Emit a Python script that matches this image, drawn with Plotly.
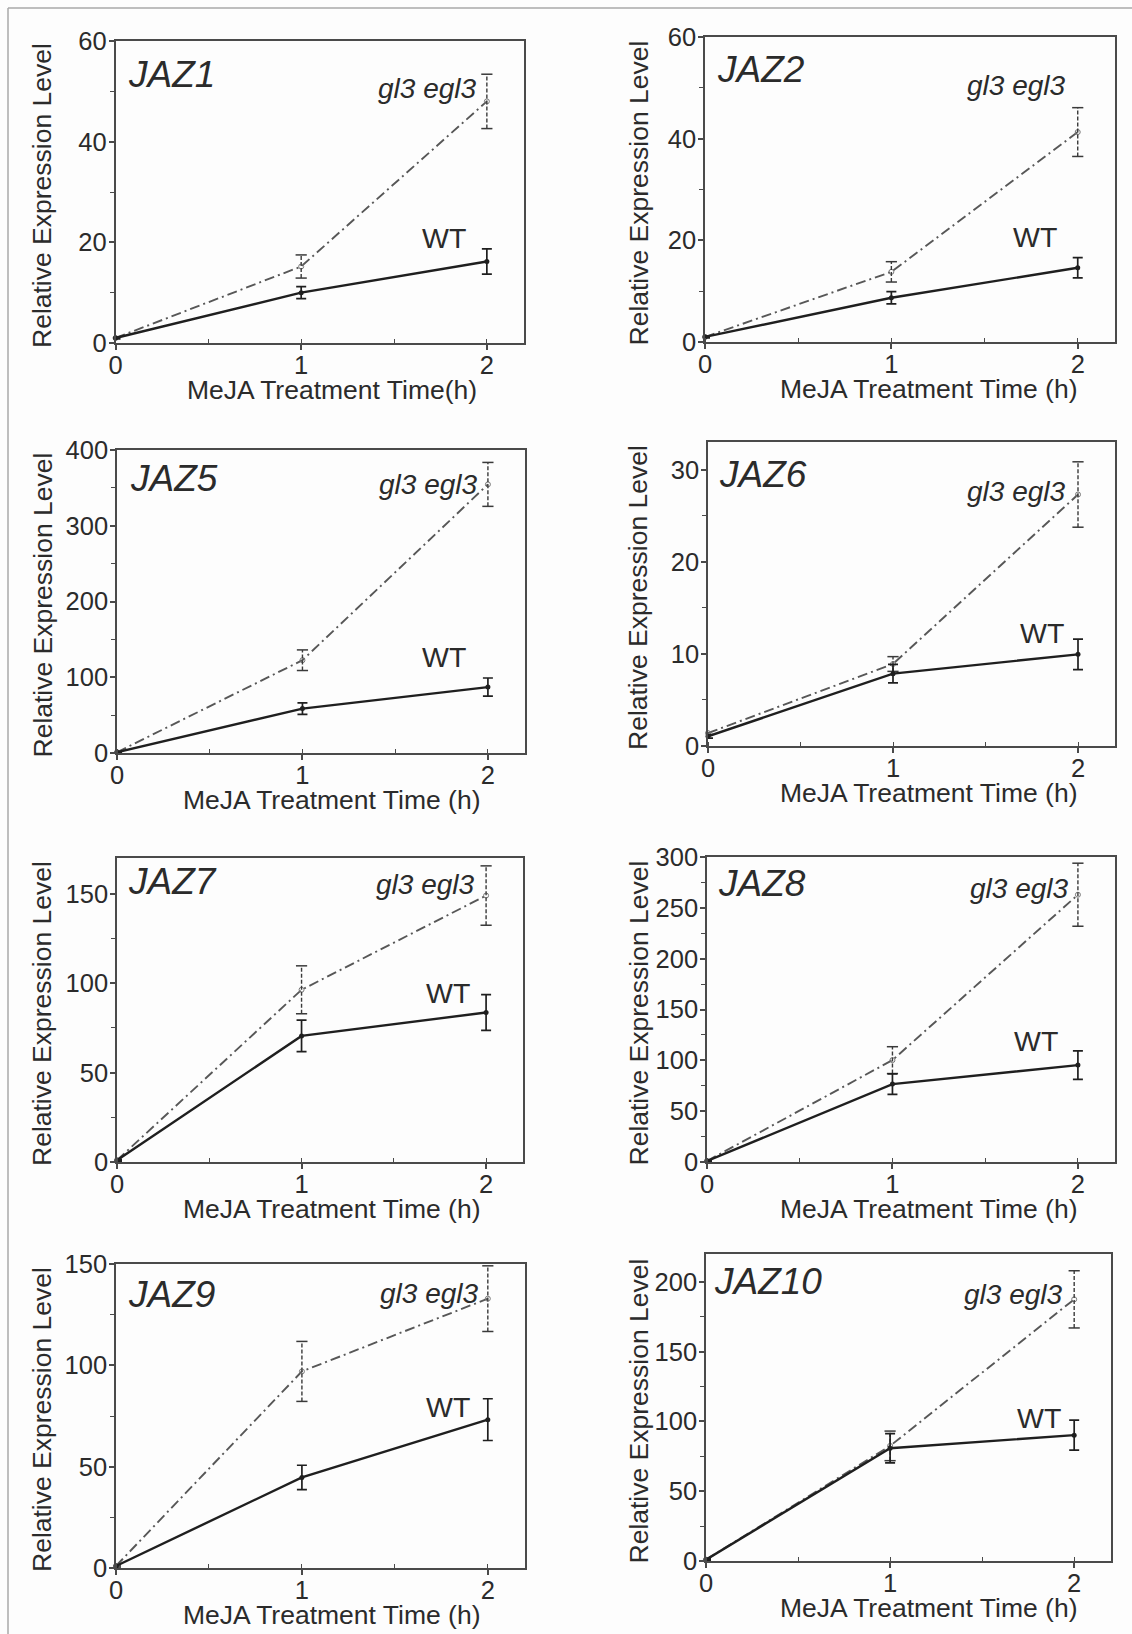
import plotly.graph_objects as go

W, H = 1132, 1634

# ---------------- data ----------------
genes = ["JAZ1", "JAZ2", "JAZ5", "JAZ6", "JAZ7", "JAZ8", "JAZ9", "JAZ10"]
time_h = [0, 1, 2]

wt_mean = [
    [1.0, 10.0, 16.2],
    [1.0, 8.7, 14.6],
    [1.0, 58.6, 87.0],
    [1.05, 7.85, 9.95],
    [1.0, 70.5, 83.6],
    [1.0, 76.6, 95.3],
    [1.0, 44.7, 73.2],
    [1.0, 80.8, 90.2],
]
wt_err = [
    [0.2, 1.2, 2.5],
    [0.2, 1.2, 2.0],
    [0.5, 7.7, 12.0],
    [0.2, 1.0, 1.65],
    [0.5, 8.8, 10.0],
    [0.5, 10.0, 14.0],
    [0.5, 6.0, 10.3],
    [0.5, 10.5, 10.7],
]
mut_mean = [
    [1.0, 15.2, 48.0],
    [1.0, 13.8, 41.3],
    [1.0, 122.5, 354.6],
    [1.4, 8.9, 27.3],
    [1.0, 96.3, 149.0],
    [1.0, 100.2, 262.9],
    [1.0, 97.0, 132.9],
    [1.0, 82.5, 187.5],
]
mut_err = [
    [0.2, 2.3, 5.4],
    [0.2, 2.0, 4.8],
    [0.5, 13.6, 29.0],
    [0.2, 0.8, 3.55],
    [0.5, 13.4, 16.6],
    [0.5, 13.2, 31.0],
    [0.5, 14.8, 16.2],
    [0.5, 10.6, 20.5],
]
y_max = [60, 60, 400, 33, 170, 300, 150, 220]
y_dtick = [20, 20, 100, 10, 50, 50, 50, 50]
y_minor = [10, 10, 50, 5, 25, 25, 25, 25]
x_tick_labels = ["0", "1", "2"]

# ---------------- layout (pixel boxes: left, top, right, bottom) ----------------
boxes = [
    (115.5, 41, 524, 343),
    (705, 37, 1115, 342),
    (117, 450, 525, 753),
    (708, 442, 1115, 746),
    (117, 858, 523, 1162),
    (707, 857, 1115, 1162),
    (116, 1264, 525, 1568),
    (706, 1254, 1111, 1561),
]
name_offset = [(14.5, 22), (14.4, 21), (14.5, 17), (13.3, 21), (12.7, 12), (12.6, 15), (13.8, 19), (9.8, 16)]
mut_label_dx = [10, 12, 10, 12, 11, 9, 9, 11]
mut_label_dy = [48, 50, 36, 50, 28, 32, 30, 41]
wt_label_dx = [21, 21, 22, 14, 16, 20, 18, 13]
wt_label_dy = [196, 199, 206, 190, 134, 183, 142, 163]
x_titles = ["MeJA Treatment Time(h)"] + ["MeJA Treatment Time (h)"] * 7

FONT = "Liberation Sans, Arial, sans-serif"
TXT = "#2b2b2b"
AX = "#4a4a4a"


def px(x):
    return x / W


def py(y):
    return 1 - y / H


fig = go.Figure()
annotations = []

for i, g in enumerate(genes):
    k = "" if i == 0 else str(i + 1)
    xa, ya = "x" + k, "y" + k
    L, T, R, B = boxes[i]

    # gl3 egl3 line
    fig.add_trace(go.Scatter(
        x=time_h, y=mut_mean[i], mode="lines+markers", xaxis=xa, yaxis=ya,
        line=dict(color="#575757", width=1.9, dash="10px,4px,2px,4px"),
        marker=dict(symbol="circle-open", size=5, color="#777777", line=dict(width=1)),
        showlegend=False, cliponaxis=False,
    ))
    # gl3 egl3 dashed error bars
    ex, ey, cx, cy = [], [], [], []
    for t, m, e in zip(time_h, mut_mean[i], mut_err[i]):
        if t == 0:
            continue
        ex += [t, t, None]
        ey += [m - e, m + e, None]
        cx += [t, t]
        cy += [m - e, m + e]
    fig.add_trace(go.Scatter(
        x=ex, y=ey, mode="lines", xaxis=xa, yaxis=ya,
        line=dict(color="#3a3a3a", width=1.4, dash="4px,2px"),
        showlegend=False, hoverinfo="skip",
    ))
    fig.add_trace(go.Scatter(
        x=cx, y=cy, mode="markers", xaxis=xa, yaxis=ya,
        marker=dict(symbol="line-ew", size=8, line=dict(color="#3a3a3a", width=1.5)),
        showlegend=False, hoverinfo="skip", cliponaxis=False,
    ))
    # WT line
    fig.add_trace(go.Scatter(
        x=time_h, y=wt_mean[i], mode="lines+markers", xaxis=xa, yaxis=ya,
        line=dict(color="#1f1f1f", width=2.4),
        marker=dict(symbol="circle", size=5, color="#1f1f1f"),
        error_y=dict(type="data", array=wt_err[i], visible=True, color="#1f1f1f",
                     thickness=1.7, width=5),
        showlegend=False, cliponaxis=False,
    ))

    fig.layout["xaxis" + k] = dict(
        domain=[px(L), px(R)], anchor=ya, range=[0, 2.2], automargin=False,
        tickmode="array", tickvals=time_h, ticktext=x_tick_labels,
        ticks="outside", ticklen=5, tickwidth=1.5, tickcolor=AX,
        ticklabelstandoff=-6,
        minor=dict(dtick=0.5, tick0=0, ticks="inside", ticklen=4, tickwidth=1.2, tickcolor=AX),
        showline=True, linecolor=AX, linewidth=1.6, mirror=True,
        showgrid=False, zeroline=False,
        tickfont=dict(family=FONT, size=25.5, color=TXT),
    )
    fig.layout["yaxis" + k] = dict(
        domain=[py(B), py(T)], anchor=xa, range=[0, y_max[i]], automargin=False,
        tick0=0, dtick=y_dtick[i],
        ticks="outside", ticklen=5, tickwidth=1.5, tickcolor=AX,
        ticklabelstandoff=-3,
        minor=dict(dtick=y_minor[i], tick0=0, ticks="outside", ticklen=4, tickwidth=1.2, tickcolor=AX),
        showline=True, linecolor=AX, linewidth=1.6, mirror=True,
        showgrid=False, zeroline=False,
        tickfont=dict(family=FONT, size=25.5, color=TXT),
    )

    x2_px = L + (R - L) * 2 / 2.2
    # gene name
    annotations.append(dict(
        xref="paper", yref="paper", x=px(L + name_offset[i][0] - 4), y=py(T + name_offset[i][1] - 11),
        xanchor="left", yanchor="top", showarrow=False,
        text="<i>%s</i>" % g, font=dict(family=FONT, size=37, color=TXT),
    ))
    # mutant label
    annotations.append(dict(
        xref="paper", yref="paper", x=px(x2_px - mut_label_dx[i] + 2), y=py(T + mut_label_dy[i] - 1),
        xanchor="right", yanchor="middle", showarrow=False,
        text="<i>gl3 egl3</i>", font=dict(family=FONT, size=28, color=TXT),
    ))
    # WT label
    annotations.append(dict(
        xref="paper", yref="paper", x=px(x2_px - wt_label_dx[i] + 2), y=py(T + wt_label_dy[i] + 1),
        xanchor="right", yanchor="middle", showarrow=False,
        text="WT", font=dict(family=FONT, size=28.5, color=TXT),
    ))
    # y-axis title
    ytx = 42 if L < 500 else 638
    annotations.append(dict(
        xref="paper", yref="paper", x=px(ytx), y=py((T + B) / 2 + 4),
        xanchor="center", yanchor="middle", showarrow=False, textangle=-90,
        text="Relative Expression Level", font=dict(family=FONT, size=26.5, color=TXT),
    ))
    # x-axis title
    xtx = 332 if L < 500 else 929
    annotations.append(dict(
        xref="paper", yref="paper", x=px(xtx), y=py(B + 47),
        xanchor="center", yanchor="middle", showarrow=False,
        text=x_titles[i], font=dict(family=FONT, size=26.5, color=TXT),
    ))

shapes = [
    dict(type="line", xref="paper", yref="paper", x0=px(8), x1=px(1132), y0=py(8), y1=py(8),
         line=dict(color="#a8a8a8", width=1.5), layer="below"),
    dict(type="line", xref="paper", yref="paper", x0=px(8), x1=px(8), y0=py(8), y1=py(1634),
         line=dict(color="#a8a8a8", width=1.5), layer="below"),
]

fig.update_layout(
    template="none",
    width=W, height=H, autosize=False,
    margin=dict(l=0, r=0, t=0, b=0, pad=0, autoexpand=False),
    paper_bgcolor="#fdfdfd", plot_bgcolor="#fdfdfd",
    annotations=annotations, shapes=shapes,
    showlegend=False,
    font=dict(family=FONT, color=TXT),
)

fig.write_html(
    "out.html",
    config={"displayModeBar": False},
    post_script="document.body.style.margin='0';document.body.style.overflow='hidden';",
)
